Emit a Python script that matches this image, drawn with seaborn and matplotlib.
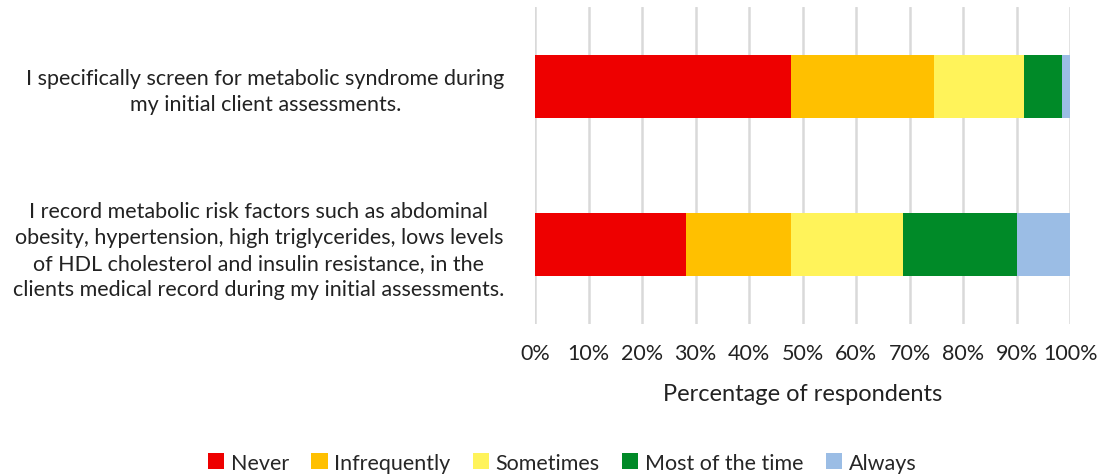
import numpy as np
import pandas as pd
import matplotlib.pyplot as plt
import seaborn as sns
from matplotlib.patches import Patch
from matplotlib.ticker import PercentFormatter

# ── Data ─────────────────────────────────────────────────────────────────────
statements = [
    "I specifically screen for metabolic syndrome during\nmy initial client assessments.",
    "I record metabolic risk factors such as abdominal\nobesity, hypertension, high triglycerides, lows levels\n"
    "of HDL cholesterol and insulin resistance, in the\nclients medical record during my initial assessments.",
]
responses = ["Never", "Infrequently", "Sometimes", "Most of the time", "Always"]
never = [47.9, 28.3]
infrequently = [26.7, 19.6]
sometimes = [16.7, 20.8]
most_of_time = [7.1, 21.4]
always = [1.6, 9.9]

colors = ["#EE0000", "#FFC000", "#FFF35A", "#008A28", "#9BBDE5"]

# ── Build table ──────────────────────────────────────────────────────────────
df = pd.DataFrame({
    "statement": statements,
    "Never": never,
    "Infrequently": infrequently,
    "Sometimes": sometimes,
    "Most of the time": most_of_time,
    "Always": always,
})
cum = df[responses].cumsum(axis=1)

sns.set_theme(style="white")
plt.rcParams["font.family"] = ["Lato", "DejaVu Sans"]

fig = plt.figure(figsize=(11, 4.77), dpi=100)
ax = fig.add_axes([0.4864, 0.3187, 0.4864, 0.6645])

# draw stacks from the longest cumulative total down
for resp, col in reversed(list(zip(responses, colors))):
    sns.barplot(x=cum[resp], y=df["statement"], color=col, orient="h",
                width=0.40, saturation=1, linewidth=0, ax=ax, zorder=3)

ax.set_xlim(0, 100)
ax.set_xticks(np.arange(0, 101, 10))
ax.xaxis.set_major_formatter(PercentFormatter(decimals=0))
ax.grid(axis="x", color="#D9D9D9", linewidth=1.8, zorder=0)
ax.set_axisbelow(True)
for s in ax.spines.values():
    s.set_visible(False)
ax.tick_params(axis="both", length=0, labelsize=15.5, colors="#222222")
ax.tick_params(axis="x", pad=14)
ax.tick_params(axis="y", pad=22)
for lbl in ax.get_yticklabels():
    lbl.set_multialignment("center")
    lbl.set_linespacing(1.38)
ax.set_ylabel("")
ax.set_xlabel("Percentage of respondents", fontsize=17, color="#222222", labelpad=14)

handles = [Patch(facecolor=c, edgecolor="none") for c in colors]
fig.legend(handles, responses, loc="center", bbox_to_anchor=(0.511, 0.028),
           ncol=5, frameon=False, fontsize=15.5, handlelength=0.75,
           handleheight=0.75, handletextpad=0.3, columnspacing=1.05)

plt.savefig("out.png", dpi=100)
plt.close()
